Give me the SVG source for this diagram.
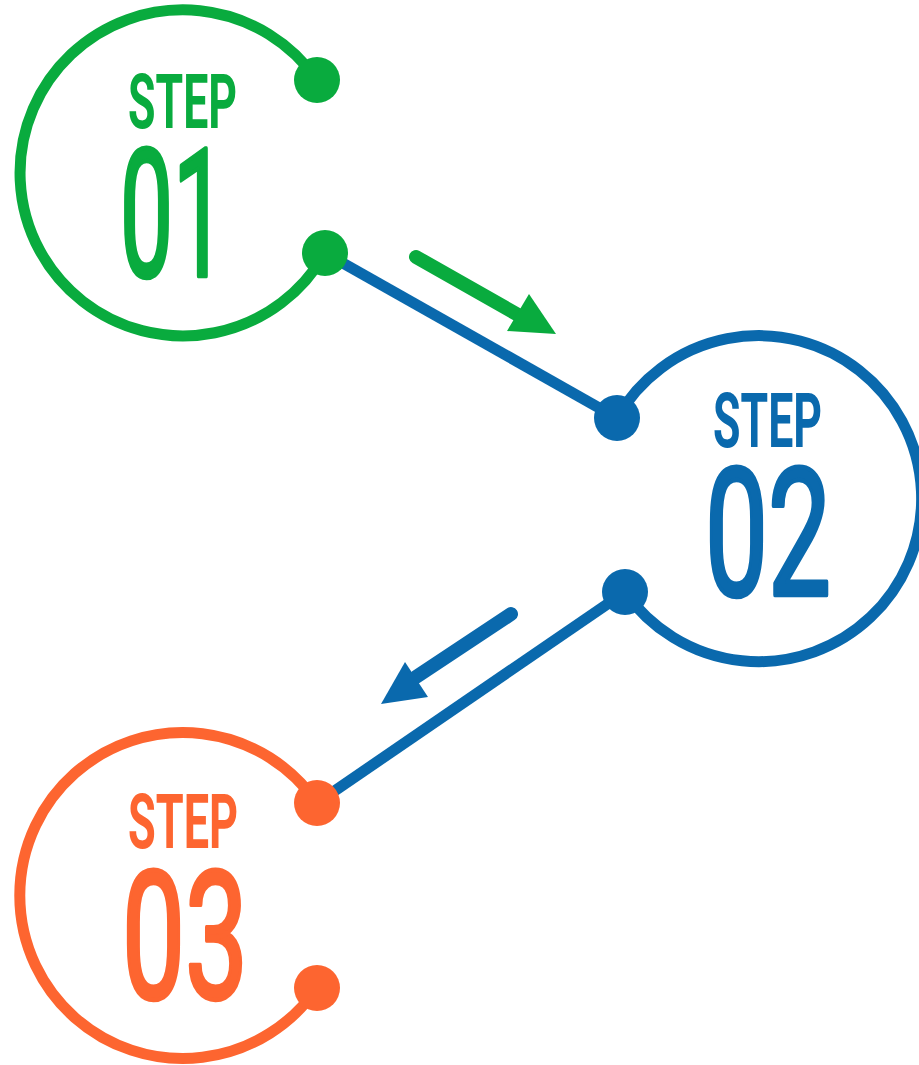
<svg xmlns="http://www.w3.org/2000/svg" width="919" height="1065" viewBox="0 0 919 1065">
<style>
.ring{fill:none;stroke-width:11}
.lbl{font-family:Roboto,"Liberation Sans",Arial,sans-serif;font-weight:bold}
.num{font-family:Roboto,"Liberation Sans",Arial,sans-serif;font-weight:normal;stroke-width:4.5;stroke-linejoin:round}
.g{fill:#09ab3e}.gs{stroke:#09ab3e}
.b{fill:#0a69ad}.bs{stroke:#0a69ad}
.o{fill:#fd6530}.os{stroke:#fd6530}
</style>
<rect width="919" height="1065" fill="#ffffff"/>
<g id="connectors">
<line x1="325" y1="253" x2="617" y2="418" class="bs" stroke-width="11"/>
<line x1="625" y1="592" x2="317" y2="803" class="bs" stroke-width="11"/>
<line x1="416" y1="257" x2="520" y2="316" class="gs" stroke-width="14" stroke-linecap="round"/>
<polygon points="556,334 507,331 529,294" class="g"/>
<line x1="511" y1="614" x2="416" y2="677" class="bs" stroke-width="14" stroke-linecap="round"/>
<polygon points="381,704 405,662 428,697" class="b"/>
</g>
<g id="step01">
<path d="M317,80 A163,163 0 1,0 325,253" class="ring gs"/>
<circle cx="317" cy="80" r="23" class="g"/>
<circle cx="325" cy="253" r="23" class="g"/>
<text x="128" y="128" class="lbl g" font-size="76" textLength="109" lengthAdjust="spacingAndGlyphs">STEP</text>
<text x="120" y="276" class="num g gs" font-size="178" textLength="106" lengthAdjust="spacingAndGlyphs">01</text>
</g>
<g id="step02">
<path d="M617,418 A163,163 0 1,1 625,592" class="ring bs"/>
<circle cx="617" cy="418" r="23" class="b"/>
<circle cx="625" cy="592" r="23" class="b"/>
<text x="713" y="447" class="lbl b" font-size="76" textLength="109" lengthAdjust="spacingAndGlyphs">STEP</text>
<text x="705" y="595" class="num b bs" font-size="178" textLength="126" lengthAdjust="spacingAndGlyphs">02</text>
</g>
<g id="step03">
<path d="M317,803 A163,163 0 1,0 317,988" class="ring os"/>
<circle cx="317" cy="803" r="23" class="o"/>
<circle cx="317" cy="988" r="23" class="o"/>
<text x="128" y="848" class="lbl o" font-size="76" textLength="110" lengthAdjust="spacingAndGlyphs">STEP</text>
<text x="122" y="998" class="num o os" font-size="178" textLength="126" lengthAdjust="spacingAndGlyphs">03</text>
</g>
</svg>
